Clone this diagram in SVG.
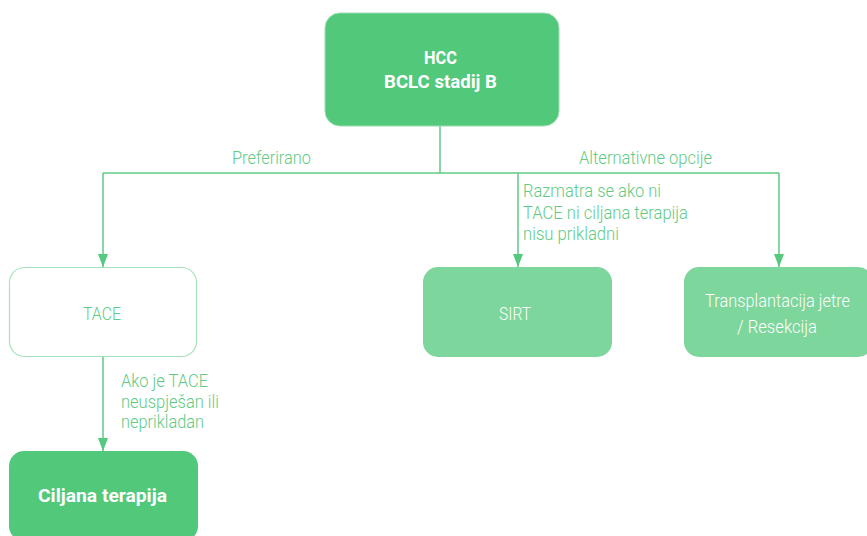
<svg xmlns="http://www.w3.org/2000/svg" width="867" height="536" viewBox="0 0 867 536">
<defs>
<marker id="arr" viewBox="0 0 13 10" refX="13" refY="5" markerWidth="13" markerHeight="10" markerUnits="userSpaceOnUse" orient="auto">
<path d="M0,0 L13,5 L0,10 Z" fill="#55c97d"/>
</marker>
<style>
.t{font-family:Roboto,"Liberation Sans",sans-serif;font-size:18.5px;font-weight:300;}
.lbl{fill:#5fcb85;}
.b{font-weight:bold;fill:#ffffff;}
.w{fill:#ffffff;}
.ln{fill:none;stroke:#5ccb82;stroke-width:1.5;}
</style>
</defs>
<rect width="867" height="536" fill="#ffffff"/>
<g id="connectors">
<path class="ln" d="M440,126 V173"/>
<path class="ln" d="M103,173 H779"/>
<path class="ln" d="M103,173 V267" marker-end="url(#arr)"/>
<path class="ln" d="M518,173 V267" marker-end="url(#arr)"/>
<path class="ln" d="M779,173 V267" marker-end="url(#arr)"/>
<path class="ln" d="M103,357 V451" marker-end="url(#arr)"/>
<text class="t lbl" x="271.5" y="164" text-anchor="middle" textLength="79" lengthAdjust="spacingAndGlyphs">Preferirano</text>
<text class="t lbl" x="645.5" y="164" text-anchor="middle" textLength="133" lengthAdjust="spacingAndGlyphs">Alternativne opcije</text>
<text class="t lbl" x="523" y="197" textLength="138" lengthAdjust="spacingAndGlyphs">Razmatra se ako ni</text>
<text class="t lbl" x="523" y="219" textLength="165" lengthAdjust="spacingAndGlyphs">TACE ni ciljana terapija</text>
<text class="t lbl" x="523" y="240" textLength="96" lengthAdjust="spacingAndGlyphs">nisu prikladni</text>
<text class="t lbl" x="121" y="387" textLength="87" lengthAdjust="spacingAndGlyphs">Ako je TACE</text>
<text class="t lbl" x="121" y="408" textLength="98" lengthAdjust="spacingAndGlyphs">neuspješan ili</text>
<text class="t lbl" x="121" y="428" textLength="83" lengthAdjust="spacingAndGlyphs">neprikladan</text>
</g>
<g id="hcc">
<rect x="325" y="13" width="234" height="113" rx="15" fill="#52c87a" stroke="#9adcb0" stroke-width="1"/>
<text class="t b" x="440.5" y="64" text-anchor="middle" textLength="33" lengthAdjust="spacingAndGlyphs">HCC</text>
<text class="t b" x="440.5" y="88" text-anchor="middle" textLength="113" lengthAdjust="spacingAndGlyphs">BCLC stadij B</text>
</g>
<g id="tace">
<rect x="9.5" y="267.5" width="187" height="89" rx="15" fill="#ffffff" stroke="#a6e3bb" stroke-width="1.2"/>
<text class="t lbl" x="102" y="320" text-anchor="middle" textLength="38" lengthAdjust="spacingAndGlyphs">TACE</text>
</g>
<g id="sirt">
<rect x="423" y="267" width="189" height="90" rx="15" fill="#7dd69b"/>
<text class="t w" x="515" y="320" text-anchor="middle" textLength="32" lengthAdjust="spacingAndGlyphs">SIRT</text>
</g>
<g id="transplant">
<rect x="684" y="267" width="189" height="90" rx="15" fill="#7dd69b"/>
<text class="t w" x="777.5" y="307" text-anchor="middle" textLength="145" lengthAdjust="spacingAndGlyphs">Transplantacija jetre</text>
<text class="t w" x="777" y="333" text-anchor="middle" textLength="80" lengthAdjust="spacingAndGlyphs">/ Resekcija</text>
</g>
<g id="ciljana">
<rect x="9" y="451" width="189" height="90" rx="15" fill="#52c87a"/>
<text class="t b" x="102.5" y="502" text-anchor="middle" textLength="129" lengthAdjust="spacingAndGlyphs">Ciljana terapija</text>
</g>
</svg>
